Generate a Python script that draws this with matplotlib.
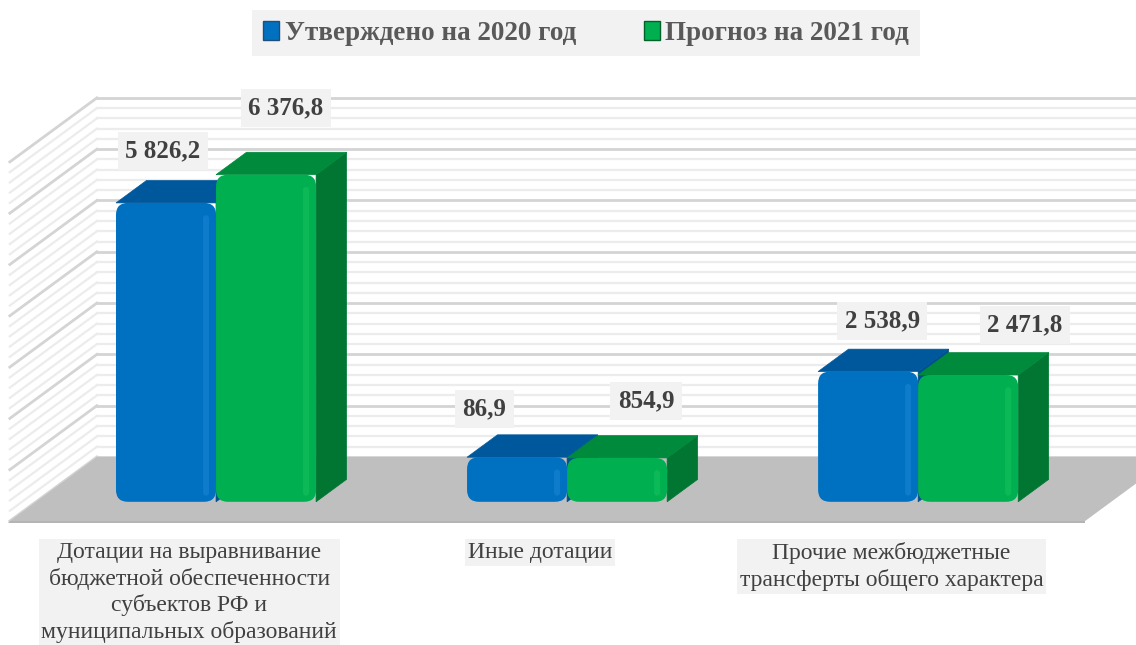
import numpy as np
import matplotlib.pyplot as plt
from matplotlib.patches import Polygon, FancyBboxPatch, Patch

# data
categories = ['Дотации на выравнивание\nбюджетной обеспеченности\nсубъектов РФ и\nмуниципальных образований',
              'Иные дотации',
              'Прочие межбюджетные\nтрансферты общего характера']
series_names = ['Утверждено на 2020 год', 'Прогноз на 2021 год']
values_2020 = [5826.2, 869.0, 2538.9]   # drawn height of middle bar (label reads 86,9)
values_2021 = [6376.8, 854.9, 2471.8]
labels_2020 = ['5 826,2', '86,9', '2 538,9']
labels_2021 = ['6 376,8', '854,9', '2 471,8']

plt.rcParams['font.family'] = ['Liberation Serif', 'DejaVu Serif']

fig = plt.figure(figsize=(11.36, 6.45), dpi=100)
ax = fig.add_axes([0, 0, 1, 1])
ax.set_xlim(-0.789, 2.447)
ax.set_ylim(-3665, 8908)
ax.axis('off')

# oblique projection: d = 0 front of floor, d = 1 back wall
DX = 0.248
DY = 1248
def proj(x, v, d):
    return x + (d - 1) * DX, v + (d - 1) * DY

x_left = -0.513
x_right = 2.55

# gridlines on back and left wall
for v in range(0, 7001, 200):
    major = v % 1000 == 0
    col = '#d4d4d4' if major else '#ececec'
    lw = 2.0 if major else 1.6
    ax.plot([x_left, x_right], [v, v], color=col, lw=lw, zorder=1)
    fx, fy = proj(x_left, v, 0)
    ax.plot([x_left, fx], [v, fy], color=col, lw=lw, zorder=1)

# floor
fl = [proj(x_left, 0, 1), proj(x_right, 0, 1), proj(x_right, 0, 0), proj(x_left, 0, 0)]
ax.add_patch(Polygon(fl, closed=True, facecolor='#bfbfbf', edgecolor='none', zorder=2))
th = 40
ax.add_patch(Polygon([fl[3], fl[2], (fl[2][0], fl[2][1] - th), (fl[3][0] - 0.004, fl[3][1] - th)],
                     closed=True, facecolor='#b4b4b4', edgecolor='none', zorder=2))

d0, d1 = 0.3, 0.65
bw = 0.285
asp = (351 / 0.0513)
rad = 12 / 351

def draw_bar(x0, v, front, top, side, hl, z):
    x1 = x0 + bw
    # side
    ax.add_patch(Polygon([proj(x1, 0, d0), proj(x1, v, d0), proj(x1, v, d1), proj(x1, 0, d1)],
                         closed=True, facecolor=side, edgecolor=side, lw=0.5, zorder=z))
    # top
    ax.add_patch(Polygon([proj(x0, v, d0), proj(x1, v, d0), proj(x1, v, d1), proj(x0, v, d1)],
                         closed=True, facecolor=top, edgecolor=top, lw=0.5, zorder=z))
    # front
    fx, fy = proj(x0, 0, d0)
    ax.add_patch(FancyBboxPatch((fx, fy), bw, v, boxstyle='round,pad=0,rounding_size=%f' % rad,
                                mutation_aspect=asp, facecolor=front, edgecolor='none', zorder=z + 0.1))
    # soft highlight near right edge
    ax.add_patch(FancyBboxPatch((fx + bw - 13 / 351, fy + 120), 6 / 351, v - 360,
                                boxstyle='round,pad=0,rounding_size=%f' % (3 / 351),
                                mutation_aspect=asp, facecolor=hl, edgecolor='none', alpha=0.35, zorder=z + 0.2))

for i in range(len(categories)):
    draw_bar(i - bw, values_2020[i], '#0070c0', '#00589c', '#005090', '#2a92e0', 3 + i)
    draw_bar(i, values_2021[i], '#00b050', '#008a3c', '#007632', '#20cc66', 3.5 + i)

# value labels
off_2020 = [(-3, 52), (-33, 48), (14, 51)]
off_2021 = [(20, 67), (29, 57), (57, 50)]
box = dict(boxstyle='square,pad=0.3', facecolor='#f2f2f2', edgecolor='none')
for i in range(len(categories)):
    for xs, vals, labs, offs in [(i - bw / 2, values_2020, labels_2020, off_2020),
                                 (i + bw / 2, values_2021, labels_2021, off_2021)]:
        px, py = proj(xs, vals[i], d0)
        ax.annotate(labs[i], (px, py), xytext=offs[i], textcoords='offset pixels',
                    ha='center', va='center', fontsize=18, fontweight='bold',
                    color='#404040', bbox=box, zorder=20)

# category labels
for i, c in enumerate(categories):
    ax.text(i - 0.25, -1660, c, ha='center', va='top', fontsize=17, color='#404040',
            linespacing=1.27, bbox=dict(boxstyle='square,pad=0.12', facecolor='#f2f2f2', edgecolor='none'),
            zorder=20)

# legend
handles = [Patch(facecolor='#0070c0', edgecolor='#1f4e79', label=series_names[0]),
           Patch(facecolor='#00b050', edgecolor='#00602a', label=series_names[1])]
leg = ax.legend(handles=handles, loc='upper center', bbox_to_anchor=(0.516, 0.985), ncol=2,
                frameon=True, fancybox=False, handlelength=0.6, handleheight=0.7, handletextpad=0.2,
                columnspacing=2.5, borderpad=0.4, borderaxespad=0,
                prop={'family': 'Liberation Serif', 'weight': 'bold', 'size': 19.5})
leg.get_frame().set_facecolor('#f2f2f2')
leg.get_frame().set_edgecolor('none')
leg.get_frame().set_alpha(1)
for t in leg.get_texts():
    t.set_color('#595959')

fig.savefig('out.png', dpi=100)
